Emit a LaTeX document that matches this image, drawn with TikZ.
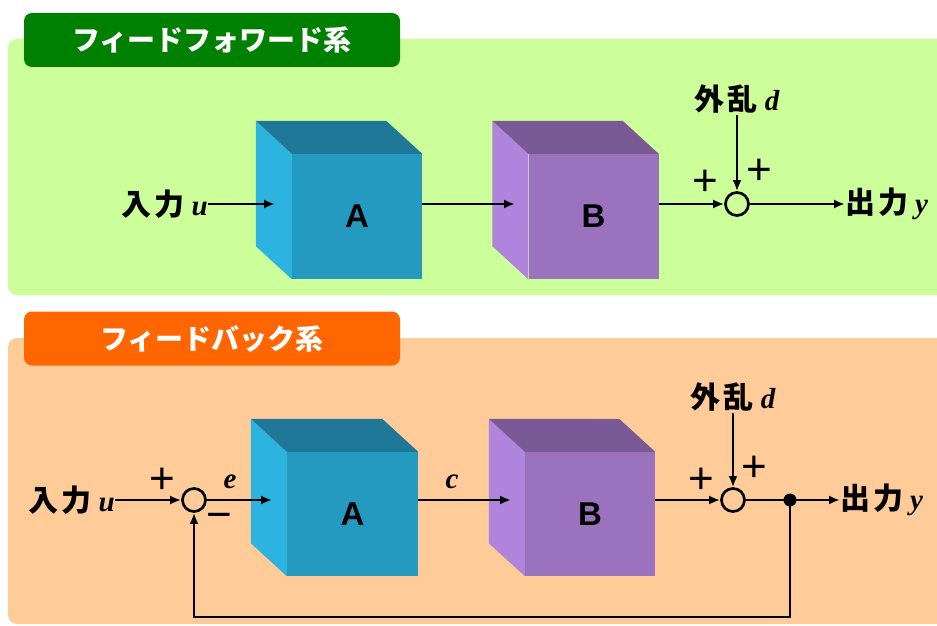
\documentclass[tikz,border=0pt]{standalone}
\usepackage{fontspec}
\newfontfamily\jp{Noto Sans CJK JP}
\newfontfamily\tms{Liberation Serif}
\newfontfamily\arial{Liberation Sans}
\usetikzlibrary{arrows.meta,calc}
\definecolor{ffbg}{HTML}{CCFF99}
\definecolor{fftab}{HTML}{008000}
\definecolor{fbbg}{HTML}{FFCC99}
\definecolor{fbtab}{HTML}{FF6600}
\definecolor{aFront}{HTML}{259AC0}
\definecolor{aLeft}{HTML}{2DB3E0}
\definecolor{aTop}{HTML}{1F7898}
\definecolor{bFront}{HTML}{9A72BE}
\definecolor{bLeft}{HTML}{B084DD}
\definecolor{bTop}{HTML}{7A5A96}
\tikzset{
  panel/.style={rounded corners=9pt, draw=none},
  tabbox/.style={rounded corners=8pt, draw=none, minimum width=376pt, minimum height=54pt, inner sep=0pt,
    text=white, font=\jp\bfseries\fontsize{28}{28}\selectfont},
  face/.style={draw=none, minimum width=130pt, minimum height=125pt, inner sep=0pt,
    font=\arial\bfseries\fontsize{33}{33}\selectfont},
  sig/.style={line width=2.7pt, -{Latex[length=11pt,width=9pt]}},
  wire/.style={line width=2.7pt},
  sumc/.style={circle, draw, line width=2.7pt, minimum size=23pt, inner sep=0pt},
  lbl/.style={inner sep=0pt},
  pm/.style={inner sep=0pt, font=\arial\fontsize{44}{44}\selectfont},
  var/.style={inner sep=0pt, font=\tms\bfseries\itshape\fontsize{29}{29}\selectfont},
}
\newcommand\jptxt[1]{{\jp\bfseries\fontsize{30}{30}\selectfont #1}}
\newcommand\vtxt[1]{{\tms\bfseries\itshape\fontsize{29}{29}\selectfont #1}}
\newcommand\cubesides[4]{%
  \fill[#3] (#1.north west) -- ++(-36,-33) -- ($(#1.south west)+(-36,-33)$) -- (#1.south west) -- cycle;
  \fill[#4] (#1.north west) -- ++(-36,-33) -- ($(#1.north east)+(-36,-33)$) -- (#1.north east) -- cycle;
}
\begin{document}
\begin{tikzpicture}[x=1pt,y=-1pt]
\useasboundingbox (0,0) rectangle (937,626);
% panels
\fill[ffbg, panel] (8,39) rectangle (950,295);
\fill[fbbg, panel] (8,338) rectangle (950,624);
\node[tabbox, fill=fftab] (tab1) at (212,40) {フィードフォワード系};
\node[tabbox, fill=fbtab] (tab2) at (212,338.5) {フィードバック系};

% ---------- feedforward ----------
\node[face, fill=aFront] (A1) at (357,216.5) {};
\cubesides{A1}{}{aLeft}{aTop}
\node[face, fill=bFront] (B1) at (593.5,216.5) {};
\cubesides{B1}{}{bLeft}{bTop}
\node[face, fill=aFront] (A1f) at (357,216.5) {A};
\node[face, fill=bFront] (B1f) at (593.5,216.5) {B};

\coordinate (A1in) at (275,204);
\coordinate (B1in) at (515,204);
\node[lbl, anchor=east] (in1) at (208,204) {\jptxt{入\kern3pt 力}\kern7pt\vtxt{u}};
\node[sumc] (s1) at (737,204) {};
\node[lbl] (d1) at (737,99) {\jptxt{外\kern3pt 乱}\kern7pt\vtxt{d}};
\node[lbl, anchor=west] (out1) at (845,204) {\jptxt{出\kern3pt 力}\kern7pt\vtxt{y}};
\node[pm] (p1) at (705,183) {+};
\node[pm] (p2) at (759,172) {+};

\draw[sig] (in1.east) -- (A1in);
\draw[sig] (A1.east |- A1in) -- (B1in);
\draw[sig] (B1.east |- s1.west) -- (s1.west);
\draw[sig] (d1.south) ++(0,2) -- (s1.north);
\draw[sig] (s1.east) -- (out1.west);

% ---------- feedback ----------
\node[face, fill=aFront, minimum width=131pt, minimum height=124pt] (A2) at (352.5,514) {};
\cubesides{A2}{}{aLeft}{aTop}
\node[face, fill=aFront, minimum width=131pt, minimum height=124pt] (A2f) at (352.5,514) {A};
\node[face, fill=bFront, minimum width=130pt, minimum height=124pt] (B2) at (590,514) {};
\cubesides{B2}{}{bLeft}{bTop}
\node[face, fill=bFront, minimum width=130pt, minimum height=124pt] (B2f) at (590,514) {B};

\coordinate (A2in) at (272,500);
\coordinate (B2in) at (511,500);
\node[lbl, anchor=east] (in2) at (115,500) {\jptxt{入\kern3pt 力}\kern7pt\vtxt{u}};
\node[sumc] (s2) at (194,500) {};
\node[sumc] (s3) at (733,500) {};
\node[lbl] (d2) at (733,397) {\jptxt{外\kern3pt 乱}\kern7pt\vtxt{d}};
\node[lbl, anchor=west] (out2) at (840,500) {\jptxt{出\kern3pt 力}\kern7pt\vtxt{y}};
\node[circle, fill=black, minimum size=13pt, inner sep=0pt] (dot) at (790,500) {};
\coordinate (fb) at (790,617);
\node[pm] (p3) at (162,481) {+};
\node[pm] (p4) at (219,521) {−};
\node[var] (e) at (230,482) {e};
\node[var] (c) at (452,482) {c};
\node[pm] (p5) at (701,481) {+};
\node[pm] (p6) at (754,469) {+};

\draw[sig] (in2.east) -- (s2.west);
\draw[sig] (s2.east) -- (A2in);
\draw[sig] (A2.east |- B2in) -- (B2in);
\draw[sig] (B2.east |- s3.west) -- (s3.west);
\draw[sig] (d2.south) ++(0,2) -- (s3.north);
\draw[wire] (s3.east) -- (dot.center);
\draw[sig] (dot.center) -- (out2.west);
\draw[sig] (dot.center) -- (fb) -| (s2.south);
\end{tikzpicture}
\end{document}
